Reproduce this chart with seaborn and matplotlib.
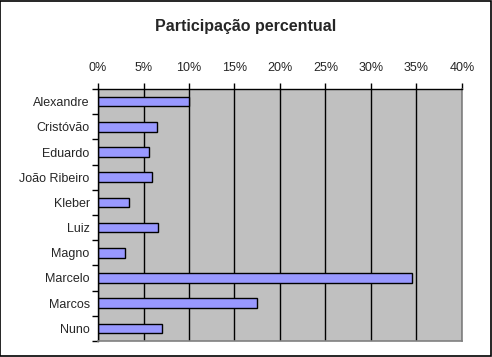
import pandas as pd
import matplotlib.pyplot as plt
import seaborn as sns
from matplotlib.ticker import PercentFormatter
from matplotlib.patches import Rectangle

nomes = ["Alexandre", "Cristóvão", "Eduardo", "João Ribeiro", "Kleber",
         "Luiz", "Magno", "Marcelo", "Marcos", "Nuno"]
percentuais = [10.0, 6.5, 5.55, 5.95, 3.4, 6.6, 2.95, 34.5, 17.5, 7.05]
ticks_x = [0, 5, 10, 15, 20, 25, 30, 35, 40]

df = pd.DataFrame({"nome": nomes, "pct": percentuais})

sns.set_style("white")
plt.rcParams['font.family'] = ['Liberation Sans', 'DejaVu Sans']

fig = plt.figure(figsize=(4.92, 3.57), dpi=100)
ax = fig.add_axes([0.1992, 0.045, 0.7398, 0.7055])
ax.set_facecolor("#c0c0c0")

sns.barplot(data=df, x="pct", y="nome", order=nomes, orient="h",
            color="#9999ff", edgecolor="black", linewidth=1.0,
            width=0.38, saturation=1, ax=ax)

ax.set_xlim(0, 40)
ax.set_xticks(ticks_x)
ax.xaxis.set_major_formatter(PercentFormatter(decimals=0))
ax.xaxis.tick_top()
ax.set_xlabel("")
ax.set_ylabel("")
ax.grid(axis="x", color="black", linewidth=1.0)
ax.set_axisbelow(True)

# ticks no estilo Excel
ax.tick_params(axis="x", which="major", top=True, direction="out", length=4,
               width=1, color="black", labelsize=9, pad=7)
ax.set_yticks(range(len(nomes)))
ax.set_yticks([i - 0.5 for i in range(len(nomes) + 1)], minor=True)
ax.tick_params(axis="y", which="major", length=0, labelsize=9, pad=6)
ax.tick_params(axis="y", which="minor", left=True, direction="out", length=4,
               width=1, color="black")
ax.set_ylim(len(nomes) - 0.5, -0.5)

for lado in ["left", "top"]:
    ax.spines[lado].set_color("black")
    ax.spines[lado].set_linewidth(1.0)
for lado in ["right", "bottom"]:
    ax.spines[lado].set_color("#808080")
    ax.spines[lado].set_linewidth(1.2)
    ax.spines[lado].set_visible(True)

fig.text(0.5, 0.925, "Participação percentual", ha="center", va="center",
         fontsize=11.5, fontweight="bold")

# borda externa do gráfico
fig.patches.append(Rectangle((0.001, 0.003), 0.996, 0.994, transform=fig.transFigure,
                             fill=False, edgecolor="black", linewidth=1.2))

plt.savefig("out.png", dpi=100)
